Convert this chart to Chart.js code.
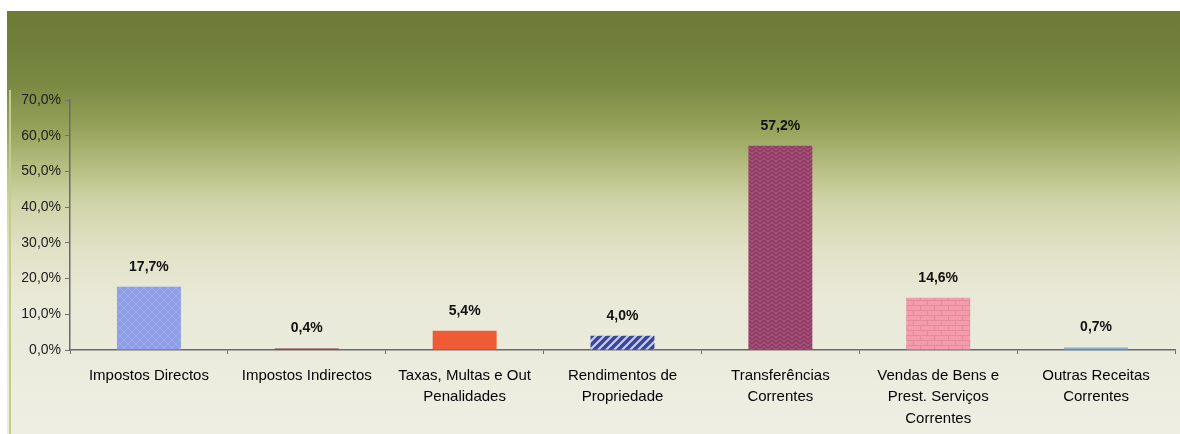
<!DOCTYPE html>
<html>
<head>
<meta charset="utf-8">
<script src="https://cdn.jsdelivr.net/npm/chart.js@4"></script>
<style>
  html, body { margin: 0; padding: 0; background: #ffffff; }
  #wrap { width: 1180px; height: 434px; }
</style>
</head>
<body>
<div id="wrap"><canvas id="graph" width="1180" height="434"></canvas></div>
<script>
        let categories = [
            'Impostos Directos',
            'Impostos Indirectos',
            ['Taxas, Multas e Out', 'Penalidades'],
            ['Rendimentos de', 'Propriedade'],
            ['Transferências', 'Correntes'],
            ['Vendas de Bens e', 'Prest. Serviços', 'Correntes'],
            ['Outras Receitas', 'Correntes']
        ];
        let shares = [17.7, 0.4, 5.4, 4.0, 57.2, 14.6, 0.7];
        let tick_values = [0, 10, 20, 30, 40, 50, 60, 70];

        function fmt(v){
            return v.toFixed(1).replace('.', ',') + '%';
        }

        function makePattern(w, h, draw){
            let c = document.createElement('canvas');
            c.width = w; c.height = h;
            let g = c.getContext('2d');
            draw(g, w, h);
            return g.createPattern(c, 'repeat');
        }

        // fills of the scanned bars
        let fill_directos = makePattern(8, 8, (g, w, h)=>{
            g.fillStyle = '#8e9ee6'; g.fillRect(0, 0, w, h);
            g.strokeStyle = '#9dadee'; g.lineWidth = 1;
            g.beginPath(); g.moveTo(0, 0); g.lineTo(8, 8); g.moveTo(8, 0); g.lineTo(0, 8); g.stroke();
        });
        let fill_rend = makePattern(8, 8, (g, w, h)=>{
            g.fillStyle = '#c9cff3'; g.fillRect(0, 0, w, h);
            g.strokeStyle = '#3a4697'; g.lineWidth = 3.6;
            g.beginPath();
            g.moveTo(-4, 12); g.lineTo(12, -4);
            g.moveTo(-4, 4); g.lineTo(4, -4);
            g.moveTo(4, 12); g.lineTo(12, 4);
            g.stroke();
        });
        let fill_transf = makePattern(8, 8, (g, w, h)=>{
            g.fillStyle = '#a64e77'; g.fillRect(0, 0, w, h);
            g.strokeStyle = '#84395e'; g.lineWidth = 1.2;
            g.beginPath();
            g.moveTo(0, 4); g.lineTo(4, 0); g.lineTo(8, 4);
            g.moveTo(0, 8); g.lineTo(4, 4); g.lineTo(8, 8);
            g.stroke();
        });
        let fill_vendas = makePattern(14, 10, (g, w, h)=>{
            g.fillStyle = '#f39cab'; g.fillRect(0, 0, w, h);
            g.strokeStyle = '#e6899a'; g.lineWidth = 1;
            g.beginPath();
            g.moveTo(0, 0.5); g.lineTo(14, 0.5);
            g.moveTo(0, 5.5); g.lineTo(14, 5.5);
            g.moveTo(3.5, 0); g.lineTo(3.5, 5);
            g.moveTo(10.5, 5); g.lineTo(10.5, 10);
            g.stroke();
        });

        let bar_fills = [fill_directos, '#7c3a34', '#ee5b36', fill_rend, fill_transf, fill_vendas, '#80b0d6'];

        let backdrop = {
            id: 'backdrop',
            beforeDraw(chart){
                let ctx = chart.ctx;
                ctx.save();
                ctx.fillStyle = '#ffffff';
                ctx.fillRect(0, 0, chart.width, chart.height);
                let grad = ctx.createLinearGradient(0, 11, 0, chart.height);
                grad.addColorStop(0.00, '#6d7b35');
                grad.addColorStop(0.08, '#707f39');
                grad.addColorStop(0.18, '#7c8b44');
                grad.addColorStop(0.28, '#97a35b');
                grad.addColorStop(0.36, '#b3bc7e');
                grad.addColorStop(0.45, '#cfd4a7');
                grad.addColorStop(0.56, '#e0e1c6');
                grad.addColorStop(0.68, '#e9e9d8');
                grad.addColorStop(1.00, '#eeeee3');
                ctx.fillStyle = grad;
                ctx.fillRect(7, 11, chart.width - 7, chart.height - 11);
                ctx.fillStyle = '#c3cf86';
                ctx.fillRect(9, 90, 2, chart.height - 90);
                ctx.restore();
            }
        };

        let value_labels = {
            id: 'value_labels',
            afterDatasetsDraw(chart){
                let ctx = chart.ctx;
                let meta = chart.getDatasetMeta(0);
                ctx.save();
                ctx.font = 'bold 14px "Liberation Sans", Arial, sans-serif';
                ctx.fillStyle = '#111111';
                ctx.textAlign = 'center';
                ctx.textBaseline = 'middle';
                meta.data.forEach((bar, i)=>{
                    ctx.fillText(fmt(shares[i]), bar.x, bar.y - 20);
                });
                ctx.restore();
            }
        };

        let graph = document.getElementById('graph');
        let graph_chart = new Chart(graph, {
            type: 'bar',
            data: {
                labels: categories,
                datasets: [{
                    data: shares,
                    backgroundColor: bar_fills,
                    borderWidth: 0,
                    categoryPercentage: 1.0,
                    barPercentage: 0.405
                }]
            },
            options: {
                responsive: false,
                devicePixelRatio: 1,
                animation: false,
                layout: { padding: { top: 100, right: 5, left: 0, bottom: 0 } },
                plugins: {
                    legend: { display: false },
                    tooltip: { enabled: false }
                },
                scales: {
                    x: {
                        afterFit: (scale)=>{ scale.height = 84; },
                        grid: { drawOnChartArea: false, drawTicks: true, tickLength: 4, color: '#707070' },
                        border: { color: '#6a6a6a', width: 1.5 },
                        ticks: {
                            color: '#050505',
                            padding: 11,
                            maxRotation: 0,
                            autoSkip: false,
                            font: { family: '"Liberation Sans", Arial, sans-serif', size: 15, lineHeight: 1.43 }
                        }
                    },
                    y: {
                        min: 0,
                        max: 70,
                        afterFit: (scale)=>{ scale.width = 70; },
                        afterBuildTicks: (scale)=>{ scale.ticks = tick_values.map(v=>({ value: v })); },
                        grid: { drawOnChartArea: false, drawTicks: true, tickLength: 5, color: '#707070' },
                        border: { color: '#6a6a6a', width: 1.5 },
                        ticks: {
                            color: '#1c1c1c',
                            padding: 4,
                            callback: (v)=>fmt(v),
                            font: { family: '"Liberation Sans", Arial, sans-serif', size: 14 }
                        }
                    }
                }
            },
            plugins: [backdrop, value_labels]
        });
</script>
</body>
</html>
